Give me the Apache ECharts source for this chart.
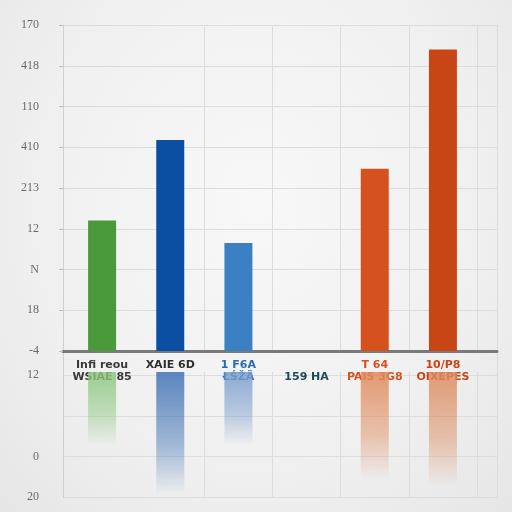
<!DOCTYPE html>
<html><head><meta charset="utf-8">
<script src="https://cdn.jsdelivr.net/npm/echarts@6/dist/echarts.min.js"></script>
<style>
html,body{margin:0;padding:0;width:512px;height:512px;overflow:hidden;
background:radial-gradient(ellipse at 50% 40%, #f8f8f8 0%, #f0f0f0 60%, #e6e6e6 100%);}
#c{width:512px;height:512px;}
</style></head>
<body><div id="c"></div>
<script>
// ---- data ----
const categories = ['Infi reou\nWSIAE 85', 'XAIE 6D', '1 F6A\nŁŚŽÄ', '\n159 HA', 'T 64\nPAIS 3G8', '10/P8\nOIXEPES'];
const barValues = [3.2, 5.18, 2.65, null, 4.47, 7.4];
const reflectValues = [-1.8, -3.0, -1.8, null, -2.65, -2.8];
const barColors = ['#4a9a3c', '#0b4fa3', '#3a80c2', '#888888', '#d5511e', '#c84615'];
const reflectColors = ['#8cc77e', '#3f72b5', '#7a9ccc', '#888888', '#e0895a', '#dc8a5e'];
const labelColors = ['#3a3a3a', '#2f2f2f', '#2a6ab0', '#1d4a5a', '#d5511e', '#c84615'];
const topTickLabels = ['-4', '18', 'N', '12', '213', '410', '110', '418', '170'];   // values 0..8
const bottomTickValues = [-3.6, -2.6, -1.6, -0.6, 0];
const bottomTickLabels = ['20', '0', '', '12', ''];

function hexA(h, a) {
  const r = parseInt(h.slice(1,3),16), g = parseInt(h.slice(3,5),16), b = parseInt(h.slice(5,7),16);
  return 'rgba(' + r + ',' + g + ',' + b + ',' + a + ')';
}

const chart = echarts.init(document.getElementById('c'));
const gridColor = '#dcdcdc';
const tickFont = {fontFamily: 'Liberation Serif, DejaVu Serif, serif', fontSize: 12};
const vLine = function (i) { return i >= 2 && i <= 5; };

chart.setOption({
  backgroundColor: 'transparent',
  animation: false,
  grid: [
    {left: 63, width: 434, top: 25, height: 326},
    {left: 63, width: 434, top: 351, height: 146},
    {left: 68, width: 409, top: 25, height: 326},
    {left: 68, width: 409, top: 372, height: 125}
  ],
  xAxis: [
    {gridIndex: 0, type: 'value', min: 0, max: 1, interval: 1, axisLabel: {show: false}, axisTick: {show: false},
     splitLine: {show: true, lineStyle: {color: gridColor}},
     axisLine: {show: true, onZero: false, lineStyle: {color: '#7a7a7a', width: 3}}},
    {gridIndex: 1, type: 'value', min: 0, max: 1, interval: 1, axisLabel: {show: false}, axisTick: {show: false},
     axisLine: {show: false}, splitLine: {show: true, lineStyle: {color: gridColor}}},
    {gridIndex: 2, type: 'category', data: categories, axisLine: {show: false}, axisTick: {show: false},
     splitLine: {show: true, interval: vLine, lineStyle: {color: gridColor}},
     axisLabel: {interval: 0, margin: 8, fontSize: 11, fontWeight: 'bold', lineHeight: 12,
       fontFamily: 'Liberation Sans Narrow, DejaVu Sans, sans-serif',
       color: function (v) { return labelColors[categories.indexOf(v)]; }}},
    {gridIndex: 3, type: 'category', data: categories, axisLine: {show: false}, axisTick: {show: false},
     axisLabel: {show: false},
     splitLine: {show: true, interval: vLine, lineStyle: {color: gridColor}}}
  ],
  yAxis: [
    {gridIndex: 0, type: 'value', min: 0, max: 8, interval: 1,
     axisLine: {show: true, lineStyle: {color: '#cfcfcf'}},
     axisTick: {show: true, length: 4, lineStyle: {color: '#bbbbbb'}},
     splitLine: {show: true, lineStyle: {color: gridColor}},
     axisLabel: Object.assign({margin: 24, color: '#6a6a6a', formatter: function (v) { return topTickLabels[Math.round(v)]; }}, tickFont)},
    {gridIndex: 1, type: 'value', min: -3.6, max: 0, interval: 1,
     axisLine: {show: true, lineStyle: {color: '#cfcfcf'}},
     axisTick: {show: false},
     splitLine: {show: true, lineStyle: {color: gridColor}},
     axisLabel: Object.assign({margin: 24, formatter: function (v) {
        const i = bottomTickValues.findIndex(function (t) { return Math.abs(t - v) < 1e-6; });
        return i >= 0 ? bottomTickLabels[i] : ''; },
        color: function (v) { return Math.abs(v + 0.6) < 1e-6 ? '#5a4f9a' : '#6a6a6a'; }}, tickFont)},
    {gridIndex: 2, type: 'value', min: 0, max: 8, show: false},
    {gridIndex: 3, type: 'value', min: -3.08, max: 0, show: false}
  ],
  series: [
    {type: 'bar', xAxisIndex: 2, yAxisIndex: 2, data: barValues, barWidth: 28,
     itemStyle: {color: function (p) { return barColors[p.dataIndex]; }}},
    {type: 'bar', xAxisIndex: 3, yAxisIndex: 3, data: reflectValues, barWidth: 28,
     itemStyle: {color: function (p) {
       const c = reflectColors[p.dataIndex];
       return new echarts.graphic.LinearGradient(0, 0, 0, 1, [
         {offset: 0, color: hexA(c, 0.85)}, {offset: 0.6, color: hexA(c, 0.45)}, {offset: 1, color: hexA(c, 0)}]);
     }}}
  ]
});
</script></body></html>
